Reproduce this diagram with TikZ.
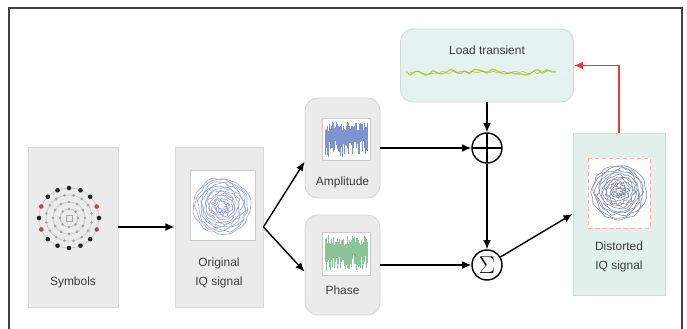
\documentclass[tikz,border=0pt]{standalone}
\usepackage{fontspec}
\setmainfont{Liberation Sans}
\usetikzlibrary{arrows.meta}

\definecolor{boxgray}{HTML}{EBEBEB}
\definecolor{boxline}{HTML}{D8D8D8}
\definecolor{loadfill}{HTML}{E6F2F0}
\definecolor{loadline}{HTML}{CFDCD9}
\definecolor{distfill}{HTML}{E2F1EC}
\definecolor{distline}{HTML}{CBE2DB}
\definecolor{iqblue}{HTML}{9AA8D2}
\definecolor{ampblue}{HTML}{7F94CE}
\definecolor{phgreen}{HTML}{8CC49A}
\definecolor{wavegreen}{HTML}{B7D63A}
\definecolor{labelgray}{HTML}{3C3C3C}
\definecolor{fbred}{HTML}{E8383D}

\tikzset{
  block/.style={draw=boxline, fill=boxgray, line width=0.6pt, inner sep=0pt},
  softblock/.style={block, rounded corners=9pt},
  plotarea/.style={draw=gray!40, fill=white, line width=0.3pt},
  lbl/.style={font=\fontsize{8.5}{13}\selectfont, text=labelgray, align=center},
  opnode/.style={circle, draw, fill=white, line width=1pt, minimum size=0.75cm, inner sep=0pt},
  arr/.style={-{Latex[length=6.5pt,width=5.5pt]}, line width=1pt},
  fbarr/.style={arr, draw=fbred}
}

\begin{document}
\begin{tikzpicture}[x=0.025cm, y=-0.025cm]
\pgfmathsetseed{11}
\useasboundingbox (0,0) rectangle (687,329);
% outer frame
\draw[line width=0.9pt, black!75] (9,329) -- (9,8) -- (682,8) -- (682,329);

% blocks
\node[block, minimum width=2.25cm, minimum height=4cm] (sym) at (73,227) {};
\node[block, minimum width=2.2cm, minimum height=4cm] (orig) at (219,227) {};
\node[softblock, minimum width=1.875cm, minimum height=2.5cm] (amp) at (342.5,148) {};
\node[softblock, minimum width=1.875cm, minimum height=2.5cm] (ph) at (342.5,265) {};
\node[softblock, draw=loadline, fill=loadfill, minimum width=4.325cm, minimum height=1.825cm] (load) at (487,65.5) {};
\node[block, draw=distline, fill=distfill, minimum width=2.3cm, minimum height=4.05cm] (dist) at (619,214) {};
\node[opnode, path picture={
    \draw[line width=1pt] (path picture bounding box.north) -- (path picture bounding box.south)
      (path picture bounding box.west) -- (path picture bounding box.east);}] (plus) at (487,148) {};
\node[opnode, font=\LARGE] (sig) at (487,265) {$\Sigma$};

% symbols constellation
\foreach \r in {9,16,23,30}
  \draw[gray!55, line width=0.3pt] (69,218) circle (\r);
\foreach \a in {0,45,...,315}
  \fill[gray!75] (69,218) ++(\a:9) circle (1.3);
\foreach \a in {0,30,...,330}
  \fill[gray!75] (69,218) ++(\a:16) circle (1.4);
\foreach \a in {11.25,33.75,...,348.75}
  \fill[gray!70] (69,218) ++(\a:23) circle (1.5);
\foreach \a in {0,45,90,...,315,67.5,112.5,247.5,292.5}
  \fill[black!85] (69,218) ++(\a:30) circle (2.3);
\foreach \a in {22.5,157.5,202.5,337.5}
  \fill[red!55!black!70] (69,218) ++(\a:30) circle (2.3);
\draw[gray!70, line width=0.4pt] (66,215) rectangle (72,221);

% original IQ signal
\draw[plotarea] (190,170) rectangle (255,240);
\foreach \r in {28,26,...,4}
  \draw[iqblue, line width=0.45pt] plot[smooth cycle, domain=0:348, samples=30]
    ({222+(\r+1.8*rand)*cos(\x)}, {206+(\r+1.8*rand)*sin(\x)});

% amplitude plot
\draw[plotarea] (322,118) rectangle (370,160);
\foreach \i in {0,...,42} {
  \pgfmathsetmacro{\top}{121+10*rnd}
  \pgfmathsetmacro{\bot}{140+17*rnd}
  \draw[ampblue, line width=0.5pt] (325+\i,\top) -- (325+\i,\bot);
}

% phase plot
\draw[plotarea] (322,232) rectangle (370,275);
\foreach \i in {0,...,42} {
  \pgfmathsetmacro{\top}{235+10*rnd}
  \pgfmathsetmacro{\bot}{255+16*rnd}
  \draw[phgreen, line width=0.5pt] (325+\i,\top) -- (325+\i,\bot);
}

% load transient wave
\draw[cyan!12, line width=2pt] (406,73) -- (566,73);
\draw[wavegreen, line width=1pt] plot[smooth, domain=406:556, samples=34] (\x, {72+2.8*rand});
\draw[olive!70, line width=0.3pt] plot[smooth, domain=410:552, samples=40] (\x, {72.5+2*rand});

% distorted IQ signal
\draw[plotarea, draw=red!30, densely dashed] (588,158) rectangle (650,228);
\foreach \r in {27,25,...,3}
  \draw[iqblue!85!black, line width=0.45pt] plot[smooth cycle, domain=0:348, samples=30]
    ({619+(\r+1.8*rand)*cos(\x)}, {192+(\r+1.8*rand)*sin(\x)});

% labels
\node[lbl] (symlbl) at (73,282) {Symbols};
\node[lbl] (origlbl) at (219,273) {Original\\IQ signal};
\node[lbl] (amplbl) at (342.5,182) {Amplitude};
\node[lbl] (phlbl) at (342.5,290) {Phase};
\node[lbl] (loadlbl) at (487,50) {Load transient};
\node[lbl] (distlbl) at (619,257) {Distorted\\IQ signal};

% connectors
\draw[arr] (sym) -- (orig);
\draw[arr] (orig.east) -- (amp.200);
\draw[arr] (orig.east) -- (ph.190);
\draw[arr] (amp) -- (plus);
\draw[arr] (ph) -- (sig);
\draw[arr] (load) -- (plus);
\draw[arr] (plus) -- (sig);
\draw[arr] (sig) -- (dist.west);
\draw[fbarr] (dist.north) |- (load.east);
\end{tikzpicture}
\end{document}
